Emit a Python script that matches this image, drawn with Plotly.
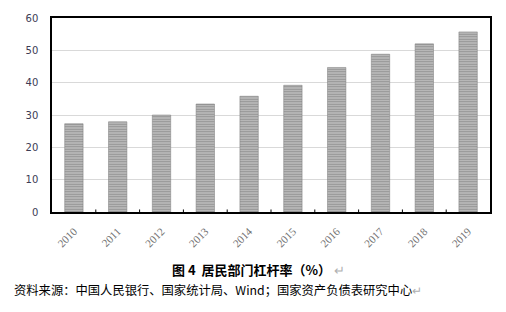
import plotly.graph_objects as go

years = ["2010", "2011", "2012", "2013", "2014", "2015", "2016", "2017", "2018", "2019"]
leverage = [27.3, 27.9, 30.0, 33.4, 35.8, 39.2, 44.7, 48.8, 52.0, 55.7]
y_ticks = [0, 10, 20, 30, 40, 50, 60]

title_text = "图 4  居民部门杠杆率（%）"
source_text = "资料来源：中国人民银行、国家统计局、Wind；国家资产负债表研究中心"

fig = go.Figure()
fig.add_trace(go.Bar(
    x=years, y=leverage, width=0.42,
    marker=dict(
        color="#c8c8c8",
        line=dict(color="#7a7a7a", width=0.5),
        pattern=dict(shape="-", fgcolor="#5e5e5e", bgcolor="#c4c4c4", size=2.5, solidity=0.5),
    ),
    showlegend=False,
))

fig.update_layout(
    width=506, height=312,
    margin=dict(l=52, r=16, t=16, b=100),
    paper_bgcolor="white", plot_bgcolor="white",
    xaxis=dict(
        type="category", tickangle=-45,
        tickfont=dict(family="Liberation Serif, DejaVu Serif, serif", size=11, color="#707070"),
        showline=True, linecolor="black", linewidth=1.5, mirror=True,
        ticks="", showgrid=False, ticklabelstandoff=7,
    ),
    yaxis=dict(
        range=[0, 60], tickvals=y_ticks,
        tickfont=dict(family="DejaVu Sans, Verdana, sans-serif", size=10, color="#3c3c55"),
        showline=True, linecolor="black", linewidth=1.5, mirror=True,
        gridcolor="#d9d9d9", gridwidth=1, zeroline=False,
        ticks="", ticklabelstandoff=10,
    ),
)

# category boundary tick marks pointing into plot area
for i in range(1, len(years)):
    fig.add_shape(type="line", xref="x", yref="paper", x0=i - 0.5, x1=i - 0.5,
                  y0=0, y1=0.013, line=dict(color="black", width=1))

fig.add_annotation(
    xref="paper", yref="paper", x=(258 - 52) / 438, y=(312 - 100 - 270) / 196,
    xanchor="center", yanchor="middle", showarrow=False,
    text="<b>" + title_text + "</b> <span style='color:#b0b0b0'>↵</span>",
    font=dict(family="Noto Sans CJK SC, sans-serif", size=13, color="black"),
)
fig.add_annotation(
    xref="paper", yref="paper", x=(12 - 52) / 438, y=(312 - 100 - 291) / 196,
    xanchor="left", yanchor="middle", showarrow=False,
    text=source_text + "<span style='color:#b0b0b0'>↵</span>",
    font=dict(family="Noto Sans CJK SC, sans-serif", size=12.3, color="black"),
)

fig.write_html("out.html")
